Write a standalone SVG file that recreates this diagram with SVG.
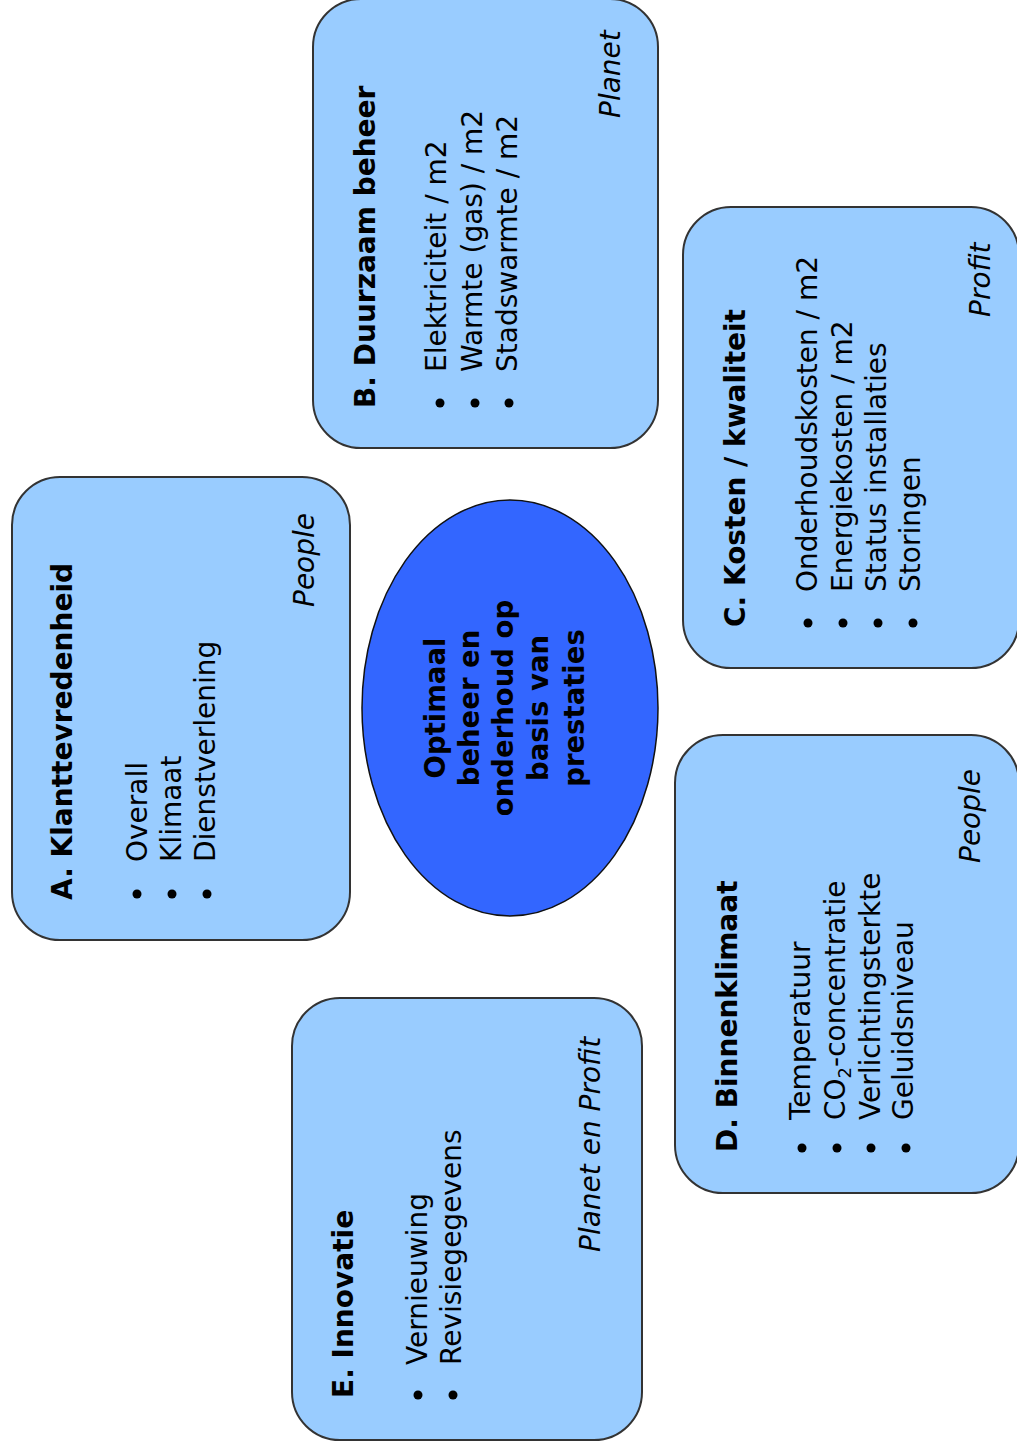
<svg xmlns="http://www.w3.org/2000/svg" width="1017" height="1451" viewBox="0 0 1017 1451">
<style>
.box{fill:#99CCFF;stroke:#333333;stroke-width:2}
.hub{fill:#3366FF;stroke:#111111;stroke-width:1.5}
text{font-family:"DejaVu Sans","Verdana",sans-serif;font-size:28px;fill:#000}
.t{font-weight:bold}
.i{font-style:italic}
.c{font-weight:bold;text-anchor:middle;font-size:27.5px}
.b{fill:#000}
</style>
<rect width="1017" height="1451" fill="#FFFFFF"/>
<g id="connectors"/>
<g id="hub">
<ellipse class="hub" cx="510" cy="708" rx="148" ry="208"/>
<text class="c" transform="translate(445,708) rotate(-90)">Optimaal</text>
<text class="c" transform="translate(479,708) rotate(-90)">beheer en</text>
<text class="c" transform="translate(513,708) rotate(-90)">onderhoud op</text>
<text class="c" transform="translate(548,708) rotate(-90)">basis van</text>
<text class="c" transform="translate(584,708) rotate(-90)">prestaties</text>
</g>
<g id="nodeA">
<rect class="box" x="12" y="477" width="338" height="463" rx="48" ry="48"/>
<text class="t" transform="translate(72,900) rotate(-90)">A. Klanttevredenheid</text>
<circle class="b" cx="137" cy="894" r="4.5"/>
<circle class="b" cx="172" cy="894" r="4.5"/>
<circle class="b" cx="207" cy="894" r="4.5"/>
<text transform="translate(147,862) rotate(-90)">Overall</text>
<text transform="translate(181,862) rotate(-90)">Klimaat</text>
<text transform="translate(215,862) rotate(-90)">Dienstverlening</text>
<text class="i" transform="translate(314,607) rotate(-90)">People</text>
</g>
<g id="nodeB">
<rect class="box" x="313" y="-1" width="345" height="449" rx="48" ry="48"/>
<text class="t" transform="translate(375,408) rotate(-90)">B. Duurzaam  beheer</text>
<circle class="b" cx="440" cy="403" r="4.5"/>
<circle class="b" cx="475" cy="403" r="4.5"/>
<circle class="b" cx="509" cy="403" r="4.5"/>
<text transform="translate(446,372) rotate(-90)">Elektriciteit / m2</text>
<text transform="translate(482,372) rotate(-90)">Warmte (gas) / m2</text>
<text transform="translate(517,372) rotate(-90)">Stadswarmte / m2</text>
<text class="i" transform="translate(620,118) rotate(-90)">Planet</text>
</g>
<g id="nodeC">
<rect class="box" x="683" y="207" width="336" height="461" rx="48" ry="48"/>
<text class="t" transform="translate(745,627) rotate(-90)">C. Kosten / kwaliteit</text>
<circle class="b" cx="808" cy="623" r="4.5"/>
<circle class="b" cx="843" cy="623" r="4.5"/>
<circle class="b" cx="878" cy="623" r="4.5"/>
<circle class="b" cx="913" cy="623" r="4.5"/>
<text transform="translate(817,592) rotate(-90)">Onderhoudskosten / m2</text>
<text transform="translate(852,592) rotate(-90)">Energiekosten / m2</text>
<text transform="translate(886,592) rotate(-90)">Status installaties</text>
<text transform="translate(920,592) rotate(-90)">Storingen</text>
<text class="i" transform="translate(990,317) rotate(-90)">Profit</text>
</g>
<g id="nodeD">
<rect class="box" x="675" y="735" width="344" height="458" rx="48" ry="48"/>
<text class="t" transform="translate(737,1152) rotate(-90)">D. Binnenklimaat</text>
<circle class="b" cx="802" cy="1148" r="4.5"/>
<circle class="b" cx="837" cy="1148" r="4.5"/>
<circle class="b" cx="871" cy="1148" r="4.5"/>
<circle class="b" cx="906" cy="1148" r="4.5"/>
<text transform="translate(810,1120) rotate(-90)">Temperatuur</text>
<text transform="translate(845,1120) rotate(-90)">CO<tspan font-size="18" dy="6">2</tspan><tspan dy="-6">-concentratie</tspan></text>
<text transform="translate(880,1120) rotate(-90)">Verlichtingsterkte</text>
<text transform="translate(913,1120) rotate(-90)">Geluidsniveau</text>
<text class="i" transform="translate(980,863) rotate(-90)">People</text>
</g>
<g id="nodeE">
<rect class="box" x="292" y="998" width="350" height="442" rx="48" ry="48"/>
<text class="t" transform="translate(353,1398) rotate(-90)">E. Innovatie</text>
<circle class="b" cx="418" cy="1395" r="4.5"/>
<circle class="b" cx="453" cy="1395" r="4.5"/>
<text transform="translate(427,1365) rotate(-90)">Vernieuwing</text>
<text transform="translate(461,1365) rotate(-90)">Revisiegegevens</text>
<text class="i" transform="translate(600,1252) rotate(-90)">Planet en Profit</text>
</g>
</svg>
